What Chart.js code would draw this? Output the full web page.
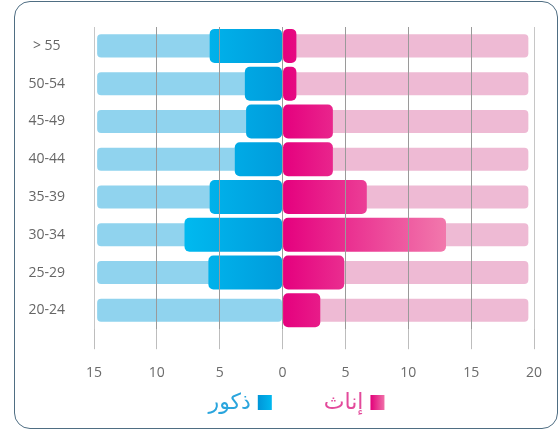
<!DOCTYPE html>
<html>
<head>
<meta charset="utf-8">
<script src="https://cdn.jsdelivr.net/npm/chart.js@4/dist/chart.umd.min.js"></script>
<style>
  html,body{margin:0;padding:0;background:#fff;}
  #frame{position:absolute;left:14px;top:1px;width:542px;height:426px;border:1px solid #4f6e83;border-radius:16px;}
  #chart{position:absolute;left:0;top:0;}
</style>
</head>
<body>
<div id="frame"></div>
<canvas id="chart" width="558" height="429"></canvas>
<script>
/* DATA */
const ageGroups = ['> 55','50-54','45-49','40-44','35-39','30-34','25-29','20-24'];
const males   = [5.8, 3.0, 2.9, 3.8, 5.8, 7.8, 5.9, 0];
const females = [1.1, 1.1, 4.0, 4.0, 6.7, 13.0, 4.9, 3.0];
const maleTrack = 14.75;    // light background bar, left side
const femaleTrack = 19.55;  // light background bar, right side
const xTicks = [-15, -10, -5, 0, 5, 10, 15, 20];
const labelFemale = 'إناث';
const labelMale = 'ذكور';

/* GRADIENTS */
function maleFill(c){
    const chart=c.chart;
    if(!chart.chartArea) return '#00a8e4';
    const xs=chart.scales.x;
    const g=chart.ctx.createLinearGradient(xs.getPixelForValue(0),0,xs.getPixelForValue(-8),0);
    g.addColorStop(0,'#009cdc');
    g.addColorStop(1,'#00baf0');
    return g;
}
function femaleFill(c){
    const chart=c.chart;
    if(!chart.chartArea) return '#e5007e';
    const xs=chart.scales.x;
    const g=chart.ctx.createLinearGradient(xs.getPixelForValue(0),0,xs.getPixelForValue(13.5),0);
    g.addColorStop(0,'#e5007e');
    g.addColorStop(1,'#f27dae');
    return g;
}

/* LEGEND (rtl, drawn under the axis) */
const arabicLegend={
    id:'arabicLegend',
    afterDraw(chart){
        const ctx=chart.ctx;
        const items=[
            {text:labelFemale,color:'#e34a9b',from:'#e2007a',to:'#f070a8'},
            {text:labelMale,color:'#2aa5dd',from:'#0095d8',to:'#00b8ef'}
        ];
        ctx.save();
        ctx.font="22px 'DejaVu Sans', sans-serif";
        ctx.textBaseline='middle';
        const box=14, gapText=7, gapItem=52;
        let total=0;
        items.forEach((it,i)=>{
            it.w=ctx.measureText(it.text).width;
            total+=box+gapText+it.w+(i?gapItem:0);
        });
        const y=chart.height-26;
        let x=296.5+total/2;
        items.forEach(it=>{
            const g=ctx.createLinearGradient(x-box,0,x,0);
            g.addColorStop(0,it.from);
            g.addColorStop(1,it.to);
            ctx.fillStyle=g;
            ctx.fillRect(x-box,y-box/2-1,box,box+1);
            ctx.fillStyle=it.color;
            ctx.textAlign='right';
            ctx.fillText(it.text,x-box-gapText,y);
            x=x-box-gapText-it.w-gapItem;
        });
        ctx.restore();
    }
};

Chart.defaults.font.family="'Open Sans', sans-serif";
Chart.defaults.color='#666';

new Chart(document.getElementById('chart'),{
    type:'bar',
    data:{
        labels:ageGroups,
        datasets:[
            {label:labelMale,data:males.map(v=>[-v,0]),backgroundColor:maleFill,
             barPercentage:0.9,borderRadius:5,order:0},
            {label:labelFemale,data:females.map(v=>[0,v]),backgroundColor:femaleFill,
             barPercentage:0.9,borderRadius:5,order:0},
            {label:'track-m',data:ageGroups.map(()=>[-maleTrack,0]),backgroundColor:'#90d3ee',
             barPercentage:0.61,borderRadius:4,order:1},
            {label:'track-f',data:ageGroups.map(()=>[0,femaleTrack]),backgroundColor:'#eebad4',
             barPercentage:0.61,borderRadius:4,order:1}
        ]
    },
    options:{
        indexAxis:'y',
        responsive:false,
        animation:false,
        datasets:{bar:{grouped:false,categoryPercentage:1,borderSkipped:false}},
        layout:{padding:{left:14,right:24,top:27,bottom:33}},
        plugins:{legend:{display:false},tooltip:{enabled:false}},
        scales:{
            x:{
                type:'linear',
                min:xTicks[0],
                max:xTicks[xTicks.length-1],
                afterBuildTicks:s=>{s.ticks=xTicks.map(v=>({value:v}));},
                ticks:{
                    callback:v=>Math.abs(v),
                    padding:15,
                    color:'#6b6b6b',
                    font:{size:14}
                },
                grid:{
                    z:1,
                    color:c=>(c.index===0||c.index===xTicks.length-1)?'#c6c6c6':'#9a9a9a',
                    tickColor:'#bdbdbd',
                    tickLength:20,
                    drawTicks:true
                },
                border:{display:false}
            },
            y:{
                // invisible grid, its tick length only pushes the labels left
                grid:{color:'rgba(0,0,0,0)',drawOnChartArea:false,drawTicks:true,tickLength:26},
                border:{display:false},
                afterFit:s=>{s.width=80;},
                ticks:{
                    crossAlign:'center',
                    padding:3,
                    color:'#666',
                    font:{size:14}
                }
            }
        }
    },
    plugins:[arabicLegend]
});
</script>
</body>
</html>
